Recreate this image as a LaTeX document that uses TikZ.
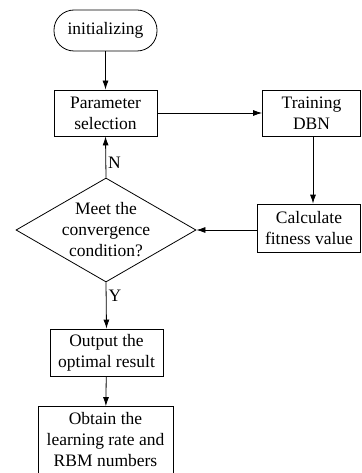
\documentclass[tikz,border=0pt]{standalone}
\usepackage{fontspec}
\setmainfont{Liberation Serif}
\usetikzlibrary{shapes.geometric,arrows.meta}
\begin{document}
\begin{tikzpicture}[x=1pt,y=-1pt,
  every node/.style={font=\fontsize{17.5}{21}\selectfont, align=center, inner sep=0pt},
  box/.style={draw, line width=0.8pt, minimum width=#1, rectangle},
  arr/.style={-{Latex[length=9pt,width=6pt]}, line width=0.8pt}]
\useasboundingbox (0,0) rectangle (361,473);
\node[draw, line width=0.8pt, rounded corners=20pt, minimum width=103pt, minimum height=41pt] (init) at (105.5,30.5) {initializing};
\node[box=103pt, minimum height=46pt] (param) at (105.5,113) {Parameter\\selection};
\node[box=98pt, minimum height=46pt] (train) at (311.5,113) {Training\\DBN};
\node[box=103pt, minimum height=48pt] (calc) at (309,228) {Calculate\\fitness value};
\node[draw, line width=0.8pt, diamond, aspect=1.73, minimum width=180pt, minimum height=104pt] (dec) at (106,230) {};
\node at (106,230) {Meet the\\convergence\\condition?};
\node[box=113pt, minimum height=47pt] (out) at (106.5,352.5) {Output the\\optimal result};
\node[box=135pt, minimum height=67pt] (obt) at (105.5,440) {Obtain the\\learning rate and\\RBM numbers};
\draw[arr] (init) -- (param);
\draw[arr] (param) -- (train);
\draw[arr] (train.south -| 313,0) -- (calc.north -| 313,0);
\draw[arr] (calc.west |- dec.east) -- (dec.east);
\draw[arr] (dec.north) -- (param.south) node[pos=0.35, right=2pt, font=\fontsize{17.5}{17.5}\selectfont] {N};
\draw[arr] (dec.south) -- (out.north) node[pos=0.3, right=2pt, font=\fontsize{17.5}{17.5}\selectfont] {Y};
\draw[arr] (out) -- (obt);
\end{tikzpicture}
\end{document}
